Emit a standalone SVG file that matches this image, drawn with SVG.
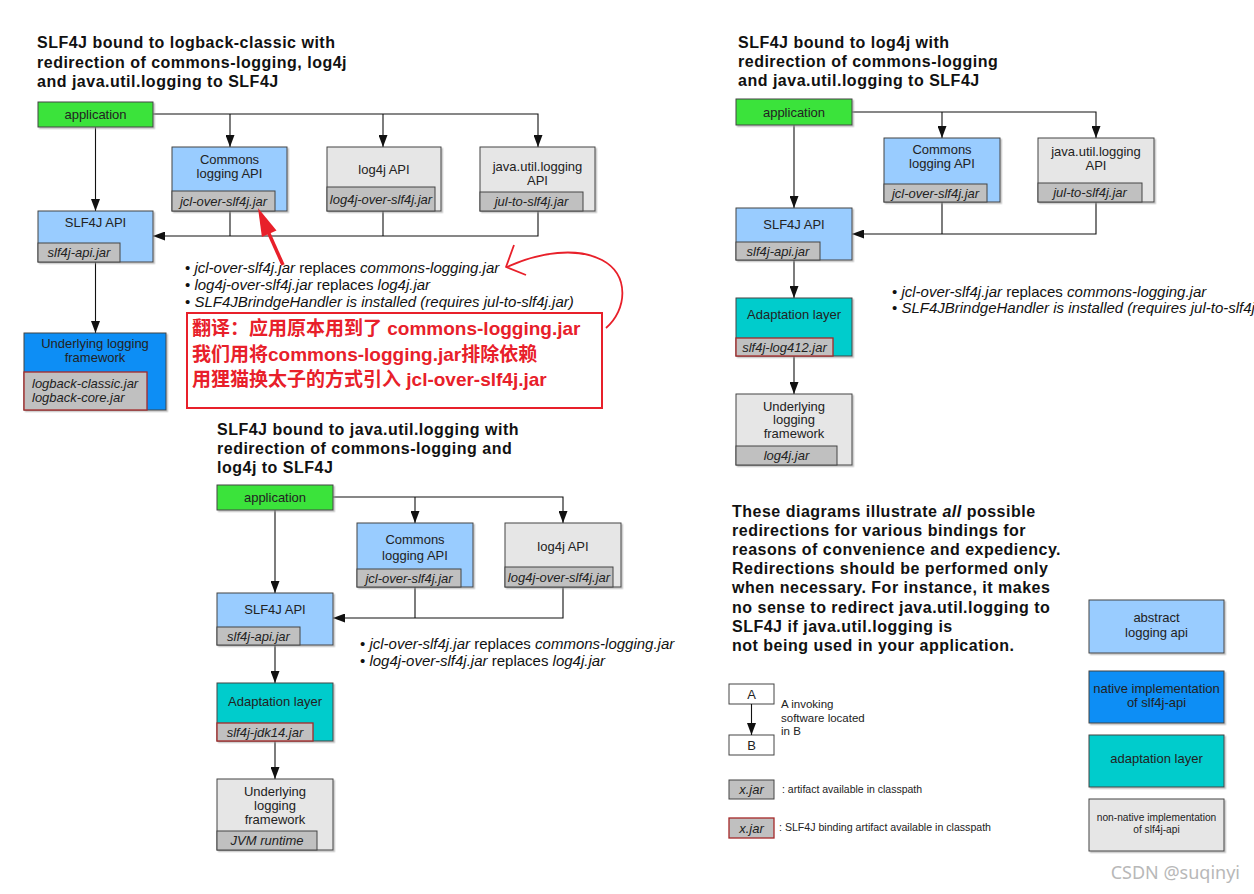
<svg xmlns="http://www.w3.org/2000/svg" width="1254" height="894" viewBox="0 0 1254 894">
<defs>
<style>
.t{font-family:"Liberation Sans",Arial,sans-serif;font-weight:bold;font-size:16px;letter-spacing:0.5px;fill:#111}
.n{font-family:"Liberation Sans",Arial,sans-serif;font-size:13px;fill:#222;text-anchor:middle}
.ns{font-size:10.2px}
.j{font-family:"Liberation Sans",Arial,sans-serif;font-size:13px;font-style:italic;fill:#222;text-anchor:middle}
.jl{font-family:"Liberation Sans",Arial,sans-serif;font-size:13px;font-style:italic;fill:#222}
.b{font-family:"Liberation Sans",Arial,sans-serif;font-size:15px;fill:#111}
.i{font-style:italic}
.box{stroke:#444;stroke-width:1;filter:url(#sh)}
.blue{fill:#99ccff}.gray{fill:#e6e6e6}.green{fill:#3be33b}.teal{fill:#00cccc}.nat{fill:#0a8ef5}
.jar{fill:#c0c0c0;stroke:#444;stroke-width:1}
.jarr{fill:#c0c0c0;stroke:#a52828;stroke-width:1.3}
.c{fill:none;stroke:#111;stroke-width:1.1;marker-end:url(#ah)}
.cn{fill:none;stroke:#111;stroke-width:1.1}
.zh{font-family:"Liberation Sans","Noto Sans CJK SC",sans-serif;font-weight:bold;font-size:19px;fill:#e8202a}
.lg{font-family:"Liberation Sans",Arial,sans-serif;fill:#222}
</style>
<marker id="ah" markerUnits="userSpaceOnUse" markerWidth="12" markerHeight="9" viewBox="0 0 12 9" refX="12" refY="4.5" orient="auto"><path d="M0,0 L12,4.5 L0,9 z" fill="#111"/></marker>
<filter id="sh" x="-5%" y="-5%" width="115%" height="125%"><feDropShadow dx="1.5" dy="1.5" stdDeviation="0.7" flood-color="#999" flood-opacity="0.6"/></filter>
</defs>
<rect width="1254" height="894" fill="#fff"/>

<!-- ===== Diagram 1 ===== -->
<g id="d1-title">
<text class="t" x="37" y="48">SLF4J bound to logback-classic with</text>
<text class="t" x="37" y="67.5">redirection of commons-logging, log4j</text>
<text class="t" x="37" y="87">and java.util.logging to SLF4J</text>
</g>
<g id="d1-connectors">
<path class="c" d="M153,114 H538 V147"/>
<path class="c" d="M230,114 V147"/>
<path class="c" d="M383,114 V147"/>
<path class="c" d="M95.5,127 V211"/>
<path class="cn" d="M230,210 V236"/>
<path class="cn" d="M383,211 V236"/>
<path class="c" d="M538,211 V236 H153"/>
<path class="c" d="M95.5,262 V333"/>
</g>
<g id="d1-app">
<rect class="box green" x="38" y="102" width="115" height="25"/>
<text class="n" x="95.5" y="118.5">application</text>
</g>
<g id="d1-jcl">
<rect class="box blue" x="172" y="147" width="115" height="64"/>
<text class="n" x="229.5" y="163.5">Commons</text>
<text class="n" x="229.5" y="177.5">logging API</text>
<rect class="jar" x="172" y="191" width="103" height="20"/>
<text class="j" x="223.5" y="205.5">jcl-over-slf4j.jar</text>
</g>
<g id="d1-log4j">
<rect class="box gray" x="327" y="147" width="114" height="64"/>
<text class="n" x="384" y="173.5">log4j API</text>
<rect class="jar" x="327" y="187" width="108" height="24"/>
<text class="j" x="381" y="203.5">log4j-over-slf4j.jar</text>
</g>
<g id="d1-jul">
<rect class="box gray" x="480" y="147" width="115" height="64"/>
<text class="n" x="537.5" y="170.5">java.util.logging</text>
<text class="n" x="537.5" y="184.5">API</text>
<rect class="jar" x="480" y="192" width="103" height="19"/>
<text class="j" x="531.5" y="206">jul-to-slf4j.jar</text>
</g>
<g id="d1-slf4j">
<rect class="box blue" x="38" y="211" width="115" height="51"/>
<text class="n" x="95.5" y="226.5">SLF4J API</text>
<rect class="jar" x="38" y="243" width="82" height="19"/>
<text class="j" x="79" y="257">slf4j-api.jar</text>
</g>
<g id="d1-under">
<rect class="box nat" x="24" y="333" width="142" height="77"/>
<text class="n" x="95" y="347.5">Underlying logging</text>
<text class="n" x="95" y="361.5">framework</text>
<rect class="jarr" x="24" y="372" width="123" height="38"/>
<text class="jl" x="32" y="387.5">logback-classic.jar</text>
<text class="jl" x="32" y="401.5">logback-core.jar</text>
</g>
<g id="d1-notes">
<text class="b" x="185" y="273.3">• <tspan class="i">jcl-over-slf4j.jar</tspan> replaces <tspan class="i">commons-logging.jar</tspan></text>
<text class="b" x="185" y="290">• <tspan class="i">log4j-over-slf4j.jar</tspan> replaces <tspan class="i">log4j.jar</tspan></text>
<text class="b" x="185" y="306.7">• <tspan class="i">SLF4JBrindgeHandler is installed (requires jul-to-slf4j.jar)</tspan></text>
</g>
<g id="annotation">
<rect x="187" y="313" width="415" height="95" fill="none" stroke="#e8202a" stroke-width="2"/>
<text class="zh" x="192" y="334.5">翻译：应用原本用到了 commons-logging.jar</text>
<text class="zh" x="192" y="360.5">我们用将commons-logging.jar排除依赖</text>
<text class="zh" x="192" y="385.5">用狸猫换太子的方式引入 jcl-over-slf4j.jar</text>
<path d="M283,265 L266,227" stroke="#e8202a" stroke-width="3.5" fill="none"/>
<path d="M258,208 L276.5,230.5 L261.9,236.9 z" fill="#e8202a"/>
<path d="M606,328 C627,310 630,275 602,260 C577,247 540,252 507,267" stroke="#e8202a" stroke-width="1.8" fill="none"/>
<path d="M514,245 L506,267 L526,275" stroke="#e8202a" stroke-width="1.8" fill="none" stroke-linejoin="round"/>
</g>

<!-- ===== Diagram 2 ===== -->
<g id="d2-title">
<text class="t" x="217" y="435">SLF4J bound to java.util.logging with</text>
<text class="t" x="217" y="454">redirection of commons-logging and</text>
<text class="t" x="217" y="473">log4j to SLF4J</text>
</g>
<g id="d2-connectors">
<path class="c" d="M333,497 H563 V523"/>
<path class="c" d="M415,497 V523"/>
<path class="c" d="M275,510 V593"/>
<path class="cn" d="M415,587 V618"/>
<path class="c" d="M563,587 V618 H333"/>
<path class="c" d="M275,645 V683"/>
<path class="c" d="M275,741 V779"/>
</g>
<g id="d2-app">
<rect class="box green" x="217" y="485" width="116" height="25"/>
<text class="n" x="275" y="501.5">application</text>
</g>
<g id="d2-jcl">
<rect class="box blue" x="357" y="523" width="116" height="64"/>
<text class="n" x="415" y="543.5">Commons</text>
<text class="n" x="415" y="559.5">logging API</text>
<rect class="jar" x="357" y="569" width="104" height="18"/>
<text class="j" x="409" y="582.5">jcl-over-slf4j.jar</text>
</g>
<g id="d2-log4j">
<rect class="box gray" x="505" y="523" width="116" height="64"/>
<text class="n" x="563" y="551">log4j API</text>
<rect class="jar" x="505" y="567" width="108" height="20"/>
<text class="j" x="559" y="581.5">log4j-over-slf4j.jar</text>
</g>
<g id="d2-slf4j">
<rect class="box blue" x="217" y="593" width="116" height="52"/>
<text class="n" x="275" y="613.5">SLF4J API</text>
<rect class="jar" x="217" y="627" width="83" height="18"/>
<text class="j" x="258.5" y="640.5">slf4j-api.jar</text>
</g>
<g id="d2-adapt">
<rect class="box teal" x="217" y="683" width="116" height="58"/>
<text class="n" x="275" y="705.5">Adaptation layer</text>
<rect class="jarr" x="217" y="723" width="96" height="18"/>
<text class="j" x="265" y="736.5">slf4j-jdk14.jar</text>
</g>
<g id="d2-under">
<rect class="box gray" x="217" y="779" width="116" height="71"/>
<text class="n" x="275" y="795.5">Underlying</text>
<text class="n" x="275" y="809.5">logging</text>
<text class="n" x="275" y="823.5">framework</text>
<rect class="jar" x="217" y="831" width="100" height="19"/>
<text class="j" x="267" y="845">JVM runtime</text>
</g>
<g id="d2-notes">
<text class="b" x="360" y="649">• <tspan class="i">jcl-over-slf4j.jar</tspan> replaces <tspan class="i">commons-logging.jar</tspan></text>
<text class="b" x="360" y="666">• <tspan class="i">log4j-over-slf4j.jar</tspan> replaces <tspan class="i">log4j.jar</tspan></text>
</g>

<!-- ===== Diagram 3 ===== -->
<g id="d3-title">
<text class="t" x="738" y="48">SLF4J bound to log4j with</text>
<text class="t" x="738" y="67.3">redirection of commons-logging</text>
<text class="t" x="738" y="86">and java.util.logging to SLF4J</text>
</g>
<g id="d3-connectors">
<path class="c" d="M852,112 H1096 V138"/>
<path class="c" d="M942,112 V138"/>
<path class="c" d="M794,125 V208"/>
<path class="cn" d="M942,202 V234"/>
<path class="c" d="M1096,202 V234 H852"/>
<path class="c" d="M794,260 V298"/>
<path class="c" d="M794,356 V394"/>
</g>
<g id="d3-app">
<rect class="box green" x="736" y="99" width="116" height="26"/>
<text class="n" x="794" y="116.5">application</text>
</g>
<g id="d3-jcl">
<rect class="box blue" x="884" y="138" width="116" height="64"/>
<text class="n" x="942" y="153.5">Commons</text>
<text class="n" x="942" y="167.5">logging API</text>
<rect class="jar" x="884" y="184" width="103" height="18"/>
<text class="j" x="935.5" y="197.5">jcl-over-slf4j.jar</text>
</g>
<g id="d3-jul">
<rect class="box gray" x="1038" y="138" width="116" height="64"/>
<text class="n" x="1096" y="155.5">java.util.logging</text>
<text class="n" x="1096" y="169.5">API</text>
<rect class="jar" x="1038" y="183" width="104" height="19"/>
<text class="j" x="1090" y="197">jul-to-slf4j.jar</text>
</g>
<g id="d3-slf4j">
<rect class="box blue" x="736" y="208" width="116" height="52"/>
<text class="n" x="794" y="228.5">SLF4J API</text>
<rect class="jar" x="736" y="242" width="84" height="18"/>
<text class="j" x="778" y="255.5">slf4j-api.jar</text>
</g>
<g id="d3-adapt">
<rect class="box teal" x="736" y="298" width="116" height="58"/>
<text class="n" x="794" y="318.5">Adaptation layer</text>
<rect class="jarr" x="736" y="338" width="97" height="18"/>
<text class="j" x="784.5" y="351.5">slf4j-log412.jar</text>
</g>
<g id="d3-under">
<rect class="box gray" x="736" y="394" width="116" height="71"/>
<text class="n" x="794" y="410.5">Underlying</text>
<text class="n" x="794" y="423.5">logging</text>
<text class="n" x="794" y="437.5">framework</text>
<rect class="jar" x="736" y="446" width="101" height="19"/>
<text class="j" x="786.5" y="460">log4j.jar</text>
</g>
<g id="d3-notes">
<text class="b" x="892" y="297">• <tspan class="i">jcl-over-slf4j.jar</tspan> replaces <tspan class="i">commons-logging.jar</tspan></text>
<text class="b" x="892" y="313">• <tspan class="i">SLF4JBrindgeHandler is installed (requires jul-to-slf4j.jar)</tspan></text>
</g>

<!-- ===== Explanation ===== -->
<g id="explanation">
<text class="t" x="732" y="516.7">These diagrams illustrate <tspan class="i">all</tspan> possible</text>
<text class="t" x="732" y="535.7">redirections for various bindings for</text>
<text class="t" x="732" y="555">reasons of convenience and expediency.</text>
<text class="t" x="732" y="574">Redirections should be performed only</text>
<text class="t" x="732" y="593">when necessary. For instance, it makes</text>
<text class="t" x="732" y="612.7">no sense to redirect java.util.logging to</text>
<text class="t" x="732" y="631.7">SLF4J if java.util.logging is</text>
<text class="t" x="732" y="651">not being used in your application.</text>
</g>

<!-- ===== Legend ===== -->
<g id="legend-ab">
<rect x="729" y="684" width="45" height="20" fill="#fff" stroke="#444"/>
<text class="lg" x="751.5" y="698.5" font-size="13" text-anchor="middle">A</text>
<rect x="729" y="735" width="45" height="20" fill="#fff" stroke="#444"/>
<text class="lg" x="751.5" y="749.5" font-size="13" text-anchor="middle">B</text>
<path class="c" d="M751.5,704 V735"/>
<text class="lg" x="781" y="708" font-size="11.5">A invoking</text>
<text class="lg" x="781" y="722" font-size="11.5">software located</text>
<text class="lg" x="781" y="735" font-size="11.5">in B</text>
</g>
<g id="legend-jar">
<rect class="jar" x="729" y="780" width="45" height="19"/>
<text class="j" x="751.5" y="794">x.jar</text>
<text class="lg" x="782" y="793" font-size="10.5">: artifact available in classpath</text>
</g>
<g id="legend-binding">
<rect class="jarr" x="729" y="818" width="45" height="20"/>
<text class="j" x="751.5" y="832.5">x.jar</text>
<text class="lg" x="779" y="831" font-size="10.6">: SLF4J binding artifact available in classpath</text>
</g>
<g id="legend-abstract">
<rect class="box blue" x="1089" y="600" width="135" height="53"/>
<text class="n" x="1156.5" y="621.5">abstract</text>
<text class="n" x="1156.5" y="636.5">logging api</text>
</g>
<g id="legend-native">
<rect class="box nat" x="1089" y="671" width="135" height="52"/>
<text class="n" x="1156.5" y="692.5">native implementation</text>
<text class="n" x="1156.5" y="706.5">of slf4j-api</text>
</g>
<g id="legend-adapt">
<rect class="box teal" x="1089" y="735" width="135" height="52"/>
<text class="n" x="1156.5" y="762.5">adaptation layer</text>
</g>
<g id="legend-nonnative">
<rect class="box gray" x="1089" y="799" width="135" height="52"/>
<text class="n ns" x="1156.5" y="820.5">non-native implementation</text>
<text class="n ns" x="1156.5" y="832.5">of slf4j-api</text>
</g>
<text x="1240" y="879" font-family="'Noto Sans','Liberation Sans',sans-serif" font-size="18" fill="#b8b8b8" text-anchor="end">CSDN @suqinyi</text>
</svg>
